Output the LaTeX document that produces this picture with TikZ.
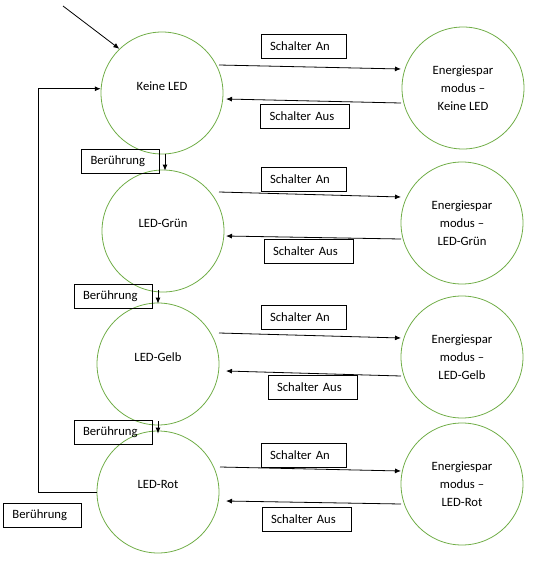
\documentclass[tikz,border=0pt]{standalone}
\usepackage{fontspec}
\setmainfont{Carlito}
\usepackage{xcolor}
\usepackage{tikz}
\usetikzlibrary{arrows.meta,calc}

\definecolor{ledgreen}{RGB}{112,173,71}

\tikzset{
  zustand/.style={circle,draw=ledgreen,line width=0.6pt,minimum size=91.5pt,inner sep=0pt,
    font=\fontsize{9.5}{13.5}\selectfont,align=center},
  linkszustand/.style={zustand,text depth=11pt},
  schildbox/.style={rectangle,draw,line width=0.6pt,inner xsep=6.75pt,inner ysep=0pt,
    minimum height=18pt,align=left,font=\fontsize{9.5}{11}\selectfont},
  anbox/.style={schildbox,text width=50.25pt},
  ausbox/.style={schildbox,text width=53.25pt},
  touchbox/.style={schildbox,text width=45pt},
  pfeil/.style={line width=0.6pt,-{Latex[length=4.5pt,width=3.75pt]}}
}

\begin{document}
\begin{tikzpicture}[x=0.75pt,y=0.75pt,yscale=-1,xscale=1]
        \useasboundingbox (0,0) rectangle (539,565);

        % Zustaende links
        \node [linkszustand] (L1) at (162,93)  {Keine LED};
        \node [linkszustand] (L2) at (163,231) {LED-Grün};
        \node [linkszustand] (L3) at (158,364) {LED-Gelb};
        \node [linkszustand] (L4) at (158,492) {LED-Rot};

        % Energiesparmodus rechts
        \node [zustand] (R1) at (463,88)  {Energiespar\\modus --\\Keine LED};
        \node [zustand] (R2) at (462,223) {Energiespar\\modus --\\LED-Grün};
        \node [zustand] (R3) at (462,357) {Energiespar\\modus --\\LED-Gelb};
        \node [zustand] (R4) at (462,484) {Energiespar\\modus --\\LED-Rot};

        % Beschriftungen
        \node [anbox]  (an1)  at (303.5,46.5) {Schalter An};
        \node [ausbox] (aus1) at (305,116)    {Schalter Aus};
        \node [anbox]  (an2)  at (303.5,179)  {Schalter An};
        \node [ausbox] (aus2) at (308.5,251)  {Schalter Aus};
        \node [anbox]  (an3)  at (303.5,317)  {Schalter An};
        \node [ausbox] (aus3) at (312.5,387)  {Schalter Aus};
        \node [anbox]  (an4)  at (303.5,455)  {Schalter An};
        \node [ausbox] (aus4) at (306.5,519)  {Schalter Aus};
        \node [touchbox] (touch1) at (120.5,161) {Berührung};
        \node [touchbox] (touch2) at (113,296)   {Berührung};
        \node [touchbox] (touch3) at (113,432)   {Berührung};
        \node [touchbox] (touch4) at (42.5,515)  {Berührung};

        % Start
        \coordinate (start) at (63,6);
        \draw [pfeil] (start) -- (L1.134);

        % Schalter An / Aus
        \draw [pfeil] ($(L1)+(57,-28)$) -- ($(R1)+(-62,-19)$);
        \draw [pfeil] ($(R1)+(-62,15)$) -- ($(L1)+(64,6)$);
        \draw [pfeil] ($(L2)+(56,-39)$) -- ($(R2)+(-61,-26)$);
        \draw [pfeil] ($(R2)+(-61,16)$) -- ($(L2)+(63,5)$);
        \draw [pfeil] ($(L3)+(61,-31)$) -- ($(R3)+(-61,-19)$);
        \draw [pfeil] ($(R3)+(-61,19)$) -- ($(L3)+(68,7)$);
        \draw [pfeil] ($(L4)+(62,-25)$) -- ($(R4)+(-61,-13)$);
        \draw [pfeil] ($(R4)+(-61,20)$) -- ($(L4)+(68,9)$);

        % Beruehrung
        \draw [pfeil] ($(L1.south)+(3,0)$) -- ($(L2.north)+(2,1)$);
        \draw [pfeil] ($(L2.south)+(-5,-2)$) -- ($(L3.north)+(0,1)$);
        \draw [pfeil] ($(L3.south)+(0,-4)$) -- ($(L4.north)+(0,3)$);
        \draw [pfeil] (L4.west) -- ++(-58,0) |- (L1.176);
\end{tikzpicture}
\end{document}
